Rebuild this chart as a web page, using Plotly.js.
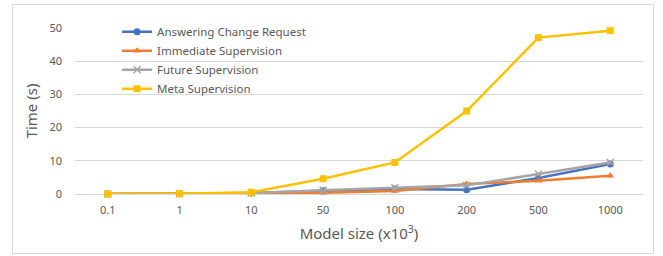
<!DOCTYPE html>
<html><head><meta charset="utf-8">
<script src="https://cdn.plot.ly/plotly-3.0.1.min.js"></script>
<style>
html,body{margin:0;padding:0;background:#fff;}
#chart{width:663px;height:256px;position:relative;}
#frame{position:absolute;left:12px;top:4px;width:640px;height:248px;border:1px solid #d9d9d9;pointer-events:none;}
</style></head>
<body>
<div id="chart"></div>
<div id="frame"></div>
<script>
const categories = ["0.1","1","10","50","100","200","500","1000"];
const answeringChangeRequest = [0, 0.1, 0.3, 1.0, 1.5, 1.3, 4.8, 9.0];
const immediateSupervision   = [0, 0.1, 0.2, 0.4, 0.9, 3.0, 4.0, 5.5];
const futureSupervision      = [0, 0.1, 0.3, 1.1, 1.9, 2.6, 6.0, 9.5];
const metaSupervision        = [0, 0.1, 0.5, 4.6, 9.5, 25.0, 47.1, 49.2];
const seriesNames = ["Answering Change Request","Immediate Supervision","Future Supervision","Meta Supervision"];
const yTicks = [0,10,20,30,40,50];

const colors = ["#4472C4","#ED7D31","#A5A5A5","#FFC000"];
const symbols = ["circle","triangle-up","x-thin-open","square"];
const data = [answeringChangeRequest, immediateSupervision, futureSupervision, metaSupervision];

const traces = data.map((vals,i)=>({
  type:"scatter", mode:"lines+markers", name:seriesNames[i],
  x:categories, y:vals, cliponaxis:false,
  line:{color:colors[i], width:2.5},
  marker:{color:colors[i], symbol:symbols[i], size:7,
          line:{color:colors[i], width: i===2?1.5:0}}
}));
const font = "'Noto Sans', 'Open Sans', sans-serif";
const layout = {
  width:663, height:256,
  margin:{l:75, r:20, t:28, b:62},
  paper_bgcolor:"rgba(0,0,0,0)", plot_bgcolor:"rgba(0,0,0,0)",
  font:{family:font, color:"#595959", size:11},
  showlegend:true,
  legend:{x:0.074, y:1.065, xanchor:"left", yanchor:"top", bgcolor:"rgba(0,0,0,0)",
          font:{size:11.5, color:"#595959"}, tracegroupgap:0, itemwidth:30},
  xaxis:{type:"category", categoryorder:"array", categoryarray:categories,
         showgrid:false, zeroline:false, showline:false, ticks:"",
         tickfont:{size:11, color:"#595959"}, ticklabelstandoff:8,
         title:{text:"Model size (x10<sup>3</sup>)", font:{size:15, color:"#595959"}, standoff:12}},
  yaxis:{range:[0,50], tickvals:yTicks, showgrid:true, gridcolor:"#d9d9d9", gridwidth:1,
         zeroline:true, zerolinecolor:"#d9d9d9", zerolinewidth:1, showline:false, ticks:"",
         tickfont:{size:11, color:"#595959"}, ticklabelstandoff:12,
         title:{text:"Time (s)", font:{size:15, color:"#595959"}, standoff:8}}
};
Plotly.newPlot("chart", traces, layout, {displayModeBar:false, staticPlot:true});
</script>
</body></html>
